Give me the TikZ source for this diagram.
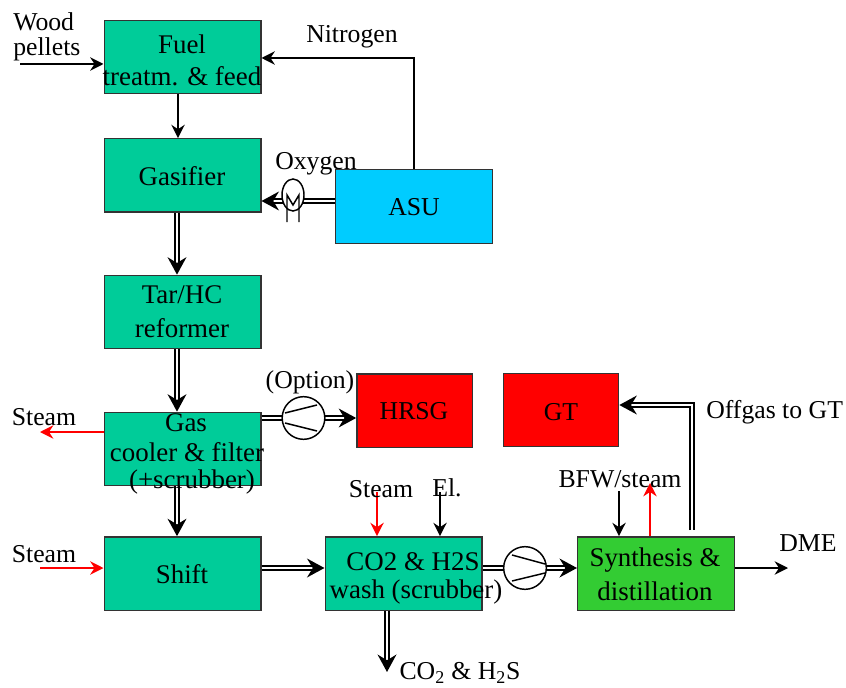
\documentclass[tikz,border=0pt]{standalone}
\usepackage{fontspec}
\setmainfont{Liberation Serif}
\usetikzlibrary{arrows.meta,shapes.geometric}
\definecolor{unitgreen}{RGB}{0,204,153}
\definecolor{asublue}{RGB}{0,204,255}
\definecolor{synthgreen}{RGB}{51,204,51}
\tikzset{
  unitbox/.style = {draw = black!80, line width = 1pt, minimum width = 117.5pt, minimum height = 55pt, inner sep = 0pt, fill = unitgreen},
  smallbox/.style = {unitbox, minimum width = 86.5pt, fill = red},
  lbl/.style = {inner sep = 0pt, align = center},
  unitlbl/.style = {lbl, font = \fontsize{20.2}{24}\selectfont},
  thinline/.style = {-{Stealth[length=10pt,width=10pt]}, line width = 1.3pt},
  steamline/.style = {thinline, draw = red, color = red},
  gasline/.style = {-{Stealth[length=13pt,width=14pt]}, line width = 2pt, double, double distance = 0.8pt},
  compr/.style = {draw, circle, fill = white, line width = 1.1pt, minimum size = 32pt, inner sep = 0pt},
  cooling/.style = {draw, ellipse, fill = white, line width = 1.1pt, minimum width = 16.5pt, minimum height = 24pt, inner sep = 0pt}
}
\begin{document}
\begin{tikzpicture}[x = 0.75pt, y = -0.75pt, font = \fontsize{19.3}{23}\selectfont]
    \useasboundingbox (0,0) rectangle (846,688);
    \node [lbl, anchor = west] (oxygen) at (275,164) {Oxygen};
    \node [unitbox] (fuel) at (182.5,57) {};
    \node [unitbox] (gasifier) at (182.5,175.5) {};
    \node [unitbox] (reformer) at (182.5,312) {};
    \node [unitbox] (cooler) at (182.5,449) {};
    \node [unitbox] (shift) at (182.5,573.5) {};
    \node [unitbox] (wash) at (403.5,573.5) {};
    \node [unitbox, fill = synthgreen] (synthesis) at (656,573.5) {};
    \node [unitbox, fill = asublue] (asu) at (414,206.5) {};
    \node [smallbox] (hrsg) at (414.5,410.5) {};
    \node [smallbox] (gt) at (561,410) {};

    \coordinate (woodin) at (20,64);
    \coordinate (nitrocorner) at (414,58);
    \coordinate (fuelout) at (178,94);
    \coordinate (oxyline) at (293,201);
    \coordinate (gaspipe) at (177,300);
    \coordinate (hrsgpipe) at (303.5,418);
    \coordinate (steamend) at (40,432);
    \coordinate (steamstart) at (40,568);
    \coordinate (washsteam) at (377,492);
    \coordinate (washel) at (440,492);
    \coordinate (bfwtop) at (619,491);
    \coordinate (bfwout) at (650,483);
    \coordinate (dmeend) at (788,568);
    \coordinate (acidend) at (387,672);
    \coordinate (offcorner) at (692,405);
    \coordinate (offstart) at (692,530);

    \draw [thinline] (woodin) -- (fuel.west |- woodin);
    \draw [thinline] (asu.north) -- (nitrocorner) -- (fuel.east |- nitrocorner);
    \draw [thinline] (fuelout) -- (gasifier.north -| fuelout);
    \draw [gasline] (asu.west |- oxyline) -- (gasifier.east |- oxyline);
    \draw [gasline] (gasifier.south -| gaspipe) -- (reformer.north -| gaspipe);
    \draw [gasline] (reformer.south -| gaspipe) -- (cooler.north -| gaspipe);
    \draw [gasline] (cooler.south -| gaspipe) -- (shift.north -| gaspipe);
    \draw [gasline] (cooler.east |- hrsgpipe) -- (hrsg.west |- hrsgpipe);
    \draw [gasline] (shift.east |- steamstart) -- (wash.west |- steamstart);
    \draw [gasline] (wash.east |- steamstart) -- (synthesis.west |- steamstart);
    \draw [gasline] (wash.south -| acidend) -- (acidend);
    \draw [gasline] (offstart) -- (offcorner) -- (gt.east |- offcorner);
    \draw [steamline] (cooler.west |- steamend) -- (steamend);
    \draw [steamline] (steamstart) -- (shift.west |- steamstart);
    \draw [steamline] (washsteam) -- (wash.north -| washsteam);
    \draw [thinline] (washel) -- (wash.north -| washel);
    \draw [thinline] (bfwtop) -- (synthesis.north -| bfwtop);
    \draw [steamline] (synthesis.north -| bfwout) -- (bfwout);
    \draw [thinline] (synthesis.east |- dmeend) -- (dmeend);

    \node [cooling] (oxycooler) at (293,195) {};
    \draw [line width = 1.1pt] (287,222) -- (287,195) -- (293,205) -- (299,195) -- (299,222);
    \node [compr] (comphrsg) at (hrsgpipe) {};
    \node [compr] (compwash) at (525,568) {};
    \draw [line width = 1.1pt] (285,413) -- (317,405) (285,423) -- (317,431);
    \draw [line width = 1.1pt] (512,555) -- (545,564) (512,581) -- (545,573);

    \node [unitlbl] at (182,44) {Fuel};
    \node [unitlbl] at (182,76) {treatm. \& feed};
    \node [unitlbl] at (182,176) {Gasifier};
    \node [unitlbl] at (182,295) {Tar/HC};
    \node [unitlbl] at (182,328) {reformer};
    \node [unitlbl] at (186,423) {Gas};
    \node [unitlbl] at (187,452) {cooler \& filter};
    \node [unitlbl] at (192,482) {(+scrubber)};
    \node [unitlbl] at (182,574) {Shift};
    \node [unitlbl] at (413,562) {CO2 \& H2S};
    \node [unitlbl] at (416,592) {wash (scrubber)};
    \node [unitlbl] at (655,560) {Synthesis \&};
    \node [unitlbl] at (655,591) {distillation};
    \node [lbl] at (414,207) {ASU};
    \node [lbl] at (414,411) {HRSG};
    \node [lbl] at (561,412) {GT};

    \node [lbl, anchor = west] (wood) at (13,22) {Wood};
    \node [lbl, anchor = west] (pellets) at (13,49) {pellets};
    \node [lbl] (nitrogen) at (352,37) {Nitrogen};
    \node [lbl] (option) at (310,382) {(Option)};
    \node [lbl] (steamout) at (44,417) {Steam};
    \node [lbl] (steamin) at (44,554) {Steam};
    \node [lbl] (steamwash) at (381,489) {Steam};
    \node [lbl] (el) at (447,488) {El.};
    \node [lbl] (bfw) at (620,479) {BFW/steam};
    \node [lbl, anchor = west] (offgas) at (706,412) {Offgas to GT};
    \node [lbl] (dme) at (808,543) {DME};
    \node [lbl] (acid) at (460,673) {CO\textsubscript{2} \& H\textsubscript{2}S};
  \end{tikzpicture}
\end{document}
